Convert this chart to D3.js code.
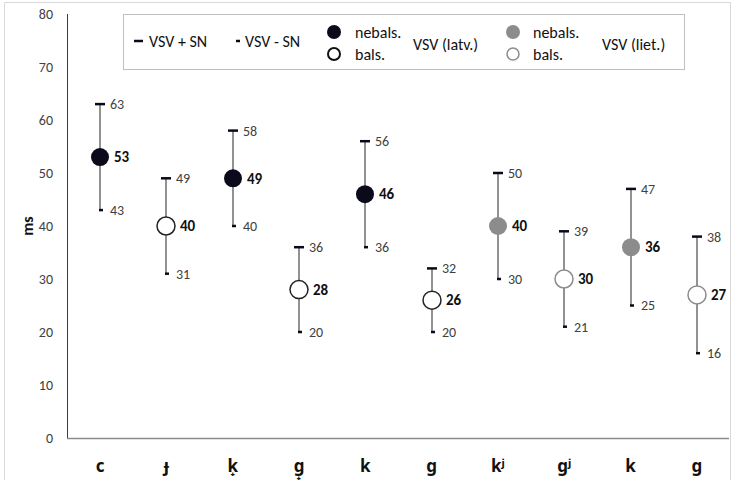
<!DOCTYPE html>
<html>
<head>
<meta charset="utf-8">
<script src="https://cdn.jsdelivr.net/npm/d3@7"></script>
<style>
  html, body { margin: 0; padding: 0; background: #fff; }
  svg { display: block; font-family: Carlito, Lato, "Open Sans", sans-serif; }
</style>
</head>
<body>
<svg id="chart" width="734" height="480"></svg>
<script>
// Sounds on the x axis
const categories = ["c", "ɟ", "k̟", "g̟", "k", "g", "kʲ", "gʲ", "k", "g"];
// Mean VOT (ms), mean + SD, mean − SD
const means = [53, 40, 49, 28, 46, 26, 40, 30, 36, 27];
const upper = [63, 49, 58, 36, 56, 32, 50, 39, 47, 38];
const lower = [43, 31, 40, 20, 36, 20, 30, 21, 25, 16];
// Language group and whether the sound is voiced (bals.) or voiceless (nebals.)
const language = ["latv", "latv", "latv", "latv", "latv", "latv", "liet", "liet", "liet", "liet"];
const voiced = [false, true, false, true, false, true, false, true, false, true];
const yTicks = [0, 10, 20, 30, 40, 50, 60, 70, 80];

const svg = d3.select("#chart");
const margin = { left: 67, right: 4, top: 14, bottom: 42 };
const W = 734, H = 480;

const x = d3.scaleBand().domain(d3.range(categories.length))
  .range([margin.left, W - margin.right]).padding(0);
const y = d3.scaleLinear().domain([0, 80]).range([H - margin.bottom, margin.top]);

const dark = "#0a0a1a";
const grey = "#8c8c8c";

// outer frame
svg.append("path")
  .attr("d", `M4.5,${H} V2.5 H${W - 3.5} V${H}`)
  .attr("fill", "none").attr("stroke", "#d9d9d9").attr("stroke-width", 1);

// y axis labels
const yAxis = svg.append("g");
yAxis.selectAll("text").data(yTicks).join("text")
  .attr("x", 53).attr("y", d => y(d)).attr("dy", "0.35em")
  .attr("text-anchor", "end").attr("font-size", 14).attr("fill", "#404040")
  .text(d => d);
svg.append("line")
  .attr("x1", margin.left + 0.5).attr("x2", margin.left + 0.5)
  .attr("y1", y(80)).attr("y2", y(0))
  .attr("stroke", "#3a3a4a").attr("stroke-width", 1);
svg.append("line")
  .attr("x1", margin.left).attr("x2", W - margin.right - 1)
  .attr("y1", y(0) + 0.5).attr("y2", y(0) + 0.5)
  .attr("stroke", "#8c8c8c").attr("stroke-width", 1.5);

svg.append("text")
  .attr("transform", `translate(33,${y(40)}) rotate(-90)`)
  .attr("text-anchor", "middle").attr("font-size", 16).attr("font-weight", "bold")
  .attr("fill", "#111").text("ms");

// x labels (IPA symbols need a font with combining marks)
svg.append("g").selectAll("text").data(categories).join("text")
  .attr("x", (d, i) => x(i) + x.bandwidth() / 2)
  .attr("y", 472)
  .attr("text-anchor", "middle").attr("font-size", 17).attr("font-weight", "bold")
  .attr("font-family", "'Noto Sans', 'DejaVu Sans', sans-serif")
  .attr("fill", "#111").text(d => d);

// error bars and points
const g = svg.append("g").selectAll("g").data(means).join("g")
  .attr("transform", (d, i) => `translate(${Math.round(x(i) + x.bandwidth() / 2)},0)`);

g.append("line")
  .attr("x1", 0).attr("x2", 0)
  .attr("y1", (d, i) => y(upper[i])).attr("y2", (d, i) => y(lower[i]))
  .attr("stroke", "#6e6e6e").attr("stroke-width", 1.5);
g.append("line")
  .attr("x1", -5).attr("x2", 5)
  .attr("y1", (d, i) => y(upper[i])).attr("y2", (d, i) => y(upper[i]))
  .attr("stroke", dark).attr("stroke-width", 2.5);
g.append("line")
  .attr("x1", -1).attr("x2", 3)
  .attr("y1", (d, i) => y(lower[i])).attr("y2", (d, i) => y(lower[i]))
  .attr("stroke", dark).attr("stroke-width", 2.5);

g.append("circle")
  .attr("cx", 0).attr("cy", (d, i) => y(means[i])).attr("r", 9)
  .attr("fill", (d, i) => voiced[i] ? "#fff" : (language[i] === "latv" ? dark : grey))
  .attr("stroke", (d, i) => voiced[i] ? (language[i] === "latv" ? "#222" : grey) : "none")
  .attr("stroke-width", 1.5);

g.append("text")
  .attr("x", 14).attr("y", (d, i) => y(means[i])).attr("dy", "0.35em")
  .attr("font-size", 15).attr("font-weight", "bold").attr("fill", "#111")
  .text(d => d);
g.append("text")
  .attr("x", 10).attr("y", (d, i) => y(upper[i])).attr("dy", "0.35em")
  .attr("font-size", 14).attr("fill", "#404040")
  .text((d, i) => upper[i]);
g.append("text")
  .attr("x", 10).attr("y", (d, i) => y(lower[i])).attr("dy", "0.35em")
  .attr("font-size", 14).attr("fill", "#404040")
  .text((d, i) => lower[i]);

// legend
const lg = svg.append("g");
lg.append("rect").attr("x", 123.5).attr("y", 14.5).attr("width", 561).attr("height", 55)
  .attr("fill", "#fff").attr("stroke", "#bfbfbf");
const legText = (tx, ty, s) => lg.append("text").attr("x", tx).attr("y", ty).attr("dy", "0.35em")
  .attr("font-size", 16).attr("fill", "#111").text(s);
lg.append("line").attr("x1", 134).attr("x2", 143).attr("y1", 41).attr("y2", 41)
  .attr("stroke", dark).attr("stroke-width", 2.5);
legText(149, 41, "VSV + SN");
lg.append("line").attr("x1", 236).attr("x2", 240).attr("y1", 41).attr("y2", 41)
  .attr("stroke", dark).attr("stroke-width", 2.5);
legText(245, 41, "VSV - SN");
lg.append("circle").attr("cx", 334).attr("cy", 32).attr("r", 7).attr("fill", dark);
lg.append("circle").attr("cx", 334).attr("cy", 54).attr("r", 6).attr("fill", "#fff")
  .attr("stroke", "#111").attr("stroke-width", 2);
legText(355, 32, "nebals.");
legText(355, 54, "bals.");
legText(413, 44, "VSV (latv.)");
lg.append("circle").attr("cx", 513).attr("cy", 32).attr("r", 7).attr("fill", grey);
lg.append("circle").attr("cx", 513).attr("cy", 54).attr("r", 6).attr("fill", "#fff")
  .attr("stroke", grey).attr("stroke-width", 1.5);
legText(533, 32, "nebals.");
legText(533, 54, "bals.");
legText(602, 44, "VSV (liet.)");
</script>
</body>
</html>
